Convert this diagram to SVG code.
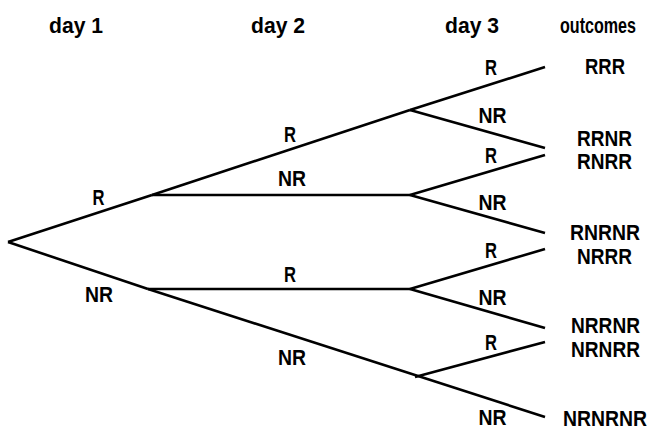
<svg xmlns="http://www.w3.org/2000/svg" width="663" height="431" viewBox="0 0 663 431">
  <style>
    text { font-family: "Liberation Sans", Arial, sans-serif; font-weight: bold; font-size: 22px; fill: #000; text-anchor: middle; }
    .edge { stroke: #000; stroke-width: 2.6; fill: none; stroke-linecap: butt; }
  </style>
  <rect width="663" height="431" fill="#fff"/>
  <g id="headers">
    <text x="76" y="33" textLength="54" lengthAdjust="spacingAndGlyphs">day 1</text>
    <text x="278" y="33" textLength="54" lengthAdjust="spacingAndGlyphs">day 2</text>
    <text x="472" y="33" textLength="54" lengthAdjust="spacingAndGlyphs">day 3</text>
    <text x="598" y="33" textLength="76" lengthAdjust="spacingAndGlyphs">outcomes</text>
  </g>
  <g id="connectors">
    <line class="edge" x1="8" y1="242" x2="152" y2="195"/>
    <line class="edge" x1="8" y1="242" x2="148" y2="289"/>
    <line class="edge" x1="152" y1="195" x2="410" y2="110"/>
    <line class="edge" x1="152" y1="195" x2="410" y2="195"/>
    <line class="edge" x1="148" y1="289" x2="410" y2="289"/>
    <line class="edge" x1="148" y1="289" x2="545" y2="417"/>
    <line class="edge" x1="410" y1="110" x2="545" y2="67"/>
    <line class="edge" x1="410" y1="110" x2="545" y2="148"/>
    <line class="edge" x1="410" y1="195" x2="545" y2="155"/>
    <line class="edge" x1="410" y1="195" x2="545" y2="233"/>
    <line class="edge" x1="410" y1="289" x2="545" y2="249"/>
    <line class="edge" x1="410" y1="289" x2="545" y2="328"/>
    <line class="edge" x1="415" y1="377" x2="545" y2="342"/>
  </g>
  <g id="edge-labels">
    <text x="98.5" y="205" textLength="12" lengthAdjust="spacingAndGlyphs">R</text>
    <text x="99" y="302" textLength="28" lengthAdjust="spacingAndGlyphs">NR</text>
    <text x="290" y="142" textLength="12" lengthAdjust="spacingAndGlyphs">R</text>
    <text x="292" y="186" textLength="28" lengthAdjust="spacingAndGlyphs">NR</text>
    <text x="290" y="282" textLength="12" lengthAdjust="spacingAndGlyphs">R</text>
    <text x="292" y="365" textLength="28" lengthAdjust="spacingAndGlyphs">NR</text>
    <text x="491" y="75" textLength="12" lengthAdjust="spacingAndGlyphs">R</text>
    <text x="492.5" y="123" textLength="28" lengthAdjust="spacingAndGlyphs">NR</text>
    <text x="491" y="163" textLength="12" lengthAdjust="spacingAndGlyphs">R</text>
    <text x="492.5" y="210" textLength="28" lengthAdjust="spacingAndGlyphs">NR</text>
    <text x="491" y="258" textLength="12" lengthAdjust="spacingAndGlyphs">R</text>
    <text x="492.5" y="305" textLength="28" lengthAdjust="spacingAndGlyphs">NR</text>
    <text x="491" y="350" textLength="12" lengthAdjust="spacingAndGlyphs">R</text>
    <text x="492.5" y="425" textLength="28" lengthAdjust="spacingAndGlyphs">NR</text>
  </g>
  <g id="outcomes">
    <text x="605" y="74" textLength="40" lengthAdjust="spacingAndGlyphs">RRR</text>
    <text x="604.5" y="146" textLength="55" lengthAdjust="spacingAndGlyphs">RRNR</text>
    <text x="604.5" y="169" textLength="55" lengthAdjust="spacingAndGlyphs">RNRR</text>
    <text x="605" y="240" textLength="70" lengthAdjust="spacingAndGlyphs">RNRNR</text>
    <text x="604.5" y="264" textLength="55" lengthAdjust="spacingAndGlyphs">NRRR</text>
    <text x="605.5" y="333" textLength="69" lengthAdjust="spacingAndGlyphs">NRRNR</text>
    <text x="605.5" y="357" textLength="69" lengthAdjust="spacingAndGlyphs">NRNRR</text>
    <text x="605" y="426" textLength="84" lengthAdjust="spacingAndGlyphs">NRNRNR</text>
  </g>
</svg>
